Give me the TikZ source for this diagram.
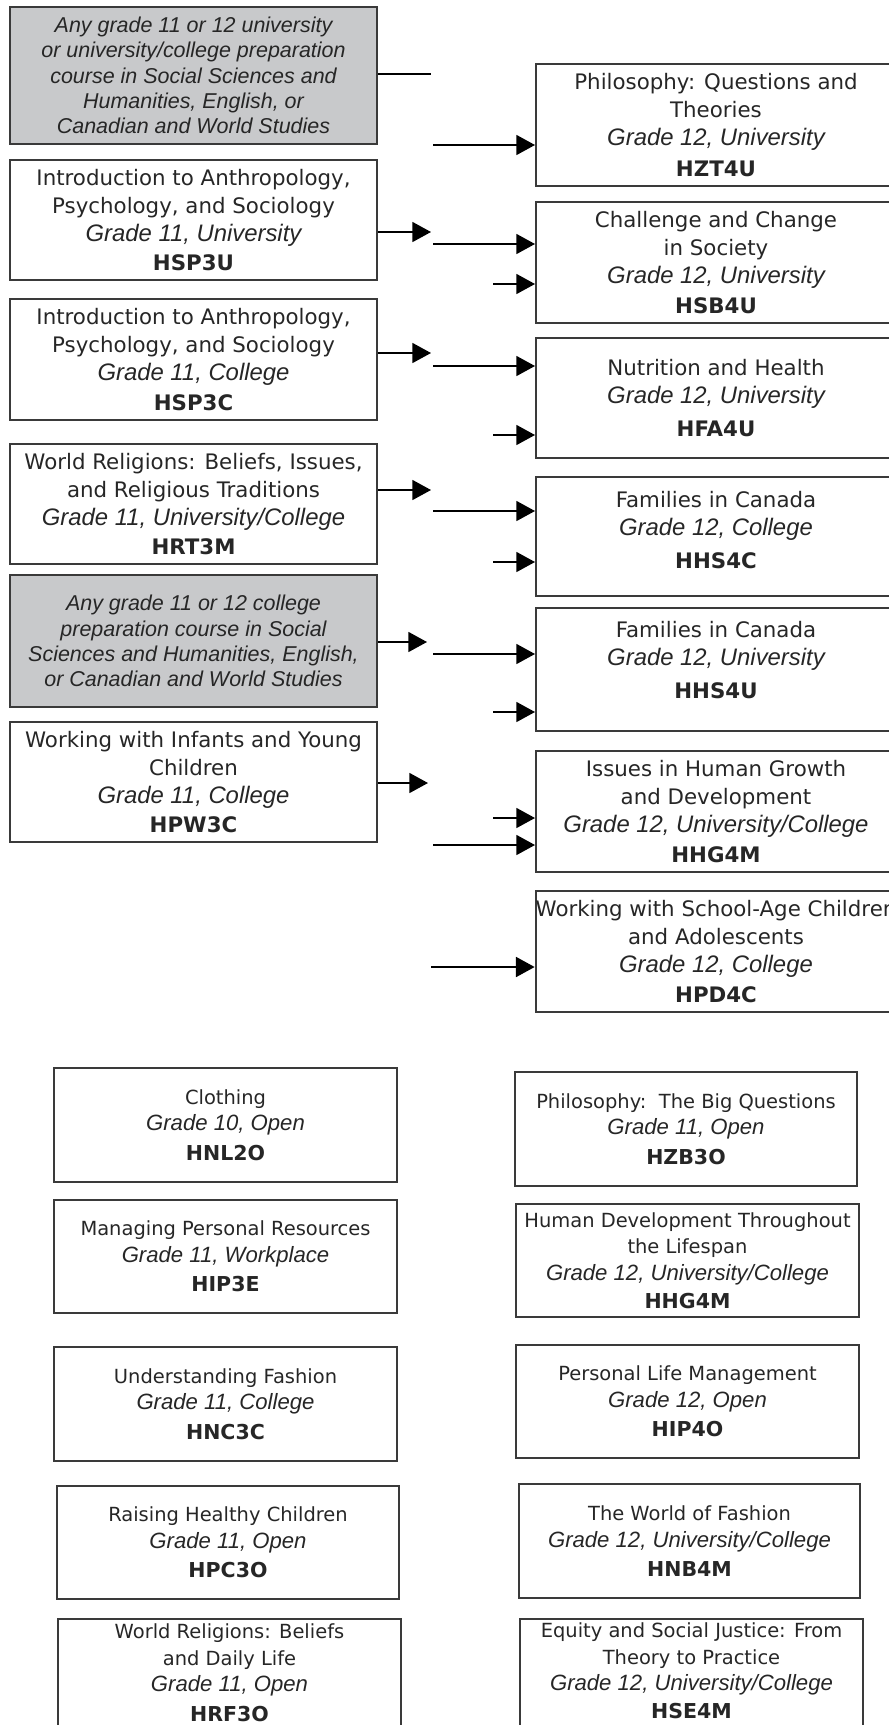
\documentclass[tikz,border=0pt]{standalone}
\usepackage{fontspec}
\setmainfont{DejaVu Sans}
\newfontfamily\ttlfont{DejaVu Sans}
\newfontfamily\gradefont{Liberation Sans}
\usetikzlibrary{arrows.meta}
\definecolor{gfill}{RGB}{200,201,203}
\definecolor{bordc}{RGB}{58,58,58}
\definecolor{txtc}{RGB}{38,38,38}
% top boxes
\newcommand\ttl[1]{{\ttlfont\fontsize{16}{21}\selectfont #1}}
\newcommand\grd[1]{{\gradefont\itshape\fontsize{17.9}{21}\selectfont #1}}
\newcommand\cod[1]{{\ttlfont\bfseries\fontsize{16}{21}\selectfont #1}}
% bottom boxes
\newcommand\bttl[1]{{\ttlfont\fontsize{14.6}{20}\selectfont #1}}
\newcommand\bgrd[1]{{\gradefont\itshape\fontsize{16.6}{20}\selectfont #1}}
\newcommand\bcod[1]{{\ttlfont\bfseries\fontsize{15.4}{20}\selectfont #1}}
% grey boxes
\newcommand\gry[1]{{\gradefont\itshape\fontsize{16.1}{19}\selectfont #1}}
\tikzset{
  bw/.style={minimum width=#1*0.75pt},
  bh/.style={minimum height=#1*0.75pt},
  cbox/.style={draw=bordc, line width=1.5pt, rectangle, inner sep=0pt, align=center, text=txtc},
  tbox/.style={cbox, font=\fontsize{16}{21}\selectfont},
  bbox/.style={cbox, font=\fontsize{15}{20}\selectfont},
  gbox/.style={cbox, fill=gfill, font=\fontsize{16}{19}\selectfont},
  arr/.style={-{Triangle[length=14pt,width=15pt]}, line width=1.2pt, black},
  stub/.style={line width=1.2pt, black}
}
\begin{document}
\begin{tikzpicture}[x=0.75pt,y=-0.75pt]
\useasboundingbox (0,0) rectangle (889,1725);

% ---------- left column (top) ----------
\node[gbox, bw=367, bh=137] (g1) at (193.5,75.5)
  {\gry{Any grade 11 or 12 university}\\ \gry{or university/college preparation}\\ \gry{course in Social Sciences and}\hspace*{12pt}\\ \gry{Humanities, English, or}\\ \gry{Canadian and World Studies}};
\node[tbox, bw=367, bh=120] (hsp3u) at (193.5,220)
  {\ttl{Introduction to Anthropology,}\\ \ttl{Psychology, and Sociology}\\ \grd{Grade 11, University}\\[1pt] \cod{HSP3U}};
\node[tbox, bw=367, bh=121] (hsp3c) at (193.5,359.5)
  {\ttl{Introduction to Anthropology,}\\ \ttl{Psychology, and Sociology}\\ \grd{Grade 11, College}\\[1pt] \cod{HSP3C}};
\node[tbox, bw=367, bh=120] (hrt3m) at (193.5,504)
  {\ttl{World Religions: Beliefs, Issues,}\\ \ttl{and Religious Traditions}\\ \grd{Grade 11, University/College}\\[1pt] \cod{HRT3M}};
\node[gbox, bw=367, bh=132] (g2) at (193.5,641)
  {\gry{Any grade 11 or 12 college}\\ \gry{preparation course in Social}\\ \gry{Sciences and Humanities, English,}\\ \gry{or Canadian and World Studies}};
\node[tbox, bw=367, bh=120] (hpw3c) at (193.5,782)
  {\ttl{Working with Infants and Young}\\ \ttl{Children}\\ \grd{Grade 11, College}\\[1pt] \cod{HPW3C}};

% ---------- right column (top) ----------
\node[tbox, bw=360, bh=122] (hzt4u) at (716,125)
  {\ttl{Philosophy: Questions and}\\ \ttl{Theories}\\ \grd{Grade 12, University}\\[2pt] \cod{HZT4U}};
\node[tbox, bw=360, bh=121] (hsb4u) at (716,262.5)
  {\ttl{Challenge and Change}\\ \ttl{in Society}\\ \grd{Grade 12, University}\\[1pt] \cod{HSB4U}};
\node[tbox, bw=360, bh=120] (hfa4u) at (716,398)
  {\ttl{Nutrition and Health}\\ \grd{Grade 12, University}\\[4pt] \cod{HFA4U}};
\node[tbox, bw=360, bh=119] (hhs4c) at (716,536.5)
  {\ttl{Families in Canada}\\ \grd{Grade 12, College}\\[4pt] \cod{HHS4C}\\[-11pt]};
\node[tbox, bw=360, bh=123] (hhs4u) at (716,669.5)
  {\ttl{Families in Canada}\\ \grd{Grade 12, University}\\[4pt] \cod{HHS4U}\\[-7pt]};
\node[tbox, bw=360, bh=121] (hhg4m) at (716,811.5)
  {\ttl{Issues in Human Growth}\\ \ttl{and Development}\\ \grd{Grade 12, University/College}\\[1pt] \cod{HHG4M}};
\node[tbox, bw=360, bh=121] (hpd4c) at (716,951.5)
  {\ttl{Working with School-Age Children}\\ \ttl{and Adolescents}\\ \grd{Grade 12, College}\\[1pt] \cod{HPD4C}};

% ---------- connectors ----------
\coordinate (t1) at (431,74);
\coordinate (t2) at (431,232);
\coordinate (t3) at (431,353);
\coordinate (t4) at (431,490);
\coordinate (t5) at (427,642);
\coordinate (t6) at (428,783);
\draw[stub] (g1.east |- t1) -- (t1);
\draw[arr] (hsp3u.east |- t2) -- (t2);
\draw[arr] (hsp3c.east |- t3) -- (t3);
\draw[arr] (hrt3m.east |- t4) -- (t4);
\draw[arr] (g2.east |- t5) -- (t5);
\draw[arr] (hpw3c.east |- t6) -- (t6);

\coordinate (l1) at (433,145);
\coordinate (l2) at (433,244);
\coordinate (l3) at (433,366);
\coordinate (l4) at (433,511);
\coordinate (l5) at (433,654);
\coordinate (l6) at (433,845);
\coordinate (l7) at (431,967);
\draw[arr] (l1) -- (l1 -| hzt4u.west);
\draw[arr] (l2) -- (l2 -| hsb4u.west);
\draw[arr] (l3) -- (l3 -| hfa4u.west);
\draw[arr] (l4) -- (l4 -| hhs4c.west);
\draw[arr] (l5) -- (l5 -| hhs4u.west);
\draw[arr] (l6) -- (l6 -| hhg4m.west);
\draw[arr] (l7) -- (l7 -| hpd4c.west);

\coordinate (s1) at (493,284);
\coordinate (s2) at (493,435);
\coordinate (s3) at (493,562);
\coordinate (s4) at (493,712);
\coordinate (s5) at (493,818);
\draw[arr] (s1) -- (s1 -| hsb4u.west);
\draw[arr] (s2) -- (s2 -| hfa4u.west);
\draw[arr] (s3) -- (s3 -| hhs4c.west);
\draw[arr] (s4) -- (s4 -| hhs4u.west);
\draw[arr] (s5) -- (s5 -| hhg4m.west);

% ---------- bottom, left column ----------
\node[bbox, bw=343, bh=114] (hnl2o) at (225.5,1125)
  {\bttl{Clothing}\\ \bgrd{Grade 10, Open}\\[2pt] \bcod{HNL2O}};
\node[bbox, bw=343, bh=113] (hip3e) at (225.5,1256.5)
  {\bttl{Managing Personal Resources}\\ \bgrd{Grade 11, Workplace}\\[2pt] \bcod{HIP3E}};
\node[bbox, bw=343, bh=114] (hnc3c) at (225.5,1404)
  {\bttl{Understanding Fashion}\\ \bgrd{Grade 11, College}\\[2pt] \bcod{HNC3C}};
\node[bbox, bw=342, bh=113] (hpc3o) at (228,1542.5)
  {\bttl{Raising Healthy Children}\\ \bgrd{Grade 11, Open}\\[2pt] \bcod{HPC3O}};
\node[bbox, bw=343, bh=112] (hrf3o) at (229.5,1675)
  {\bttl{World Religions: Beliefs}\\ \bttl{and Daily Life}\hspace*{14pt}\\ \bgrd{Grade 11, Open}\\[2pt] \bcod{HRF3O}\\[-16pt]};

% ---------- bottom, right column ----------
\node[bbox, bw=342, bh=114] (hzb3o) at (686,1129)
  {\bttl{Philosophy:\ \ The Big Questions}\\ \bgrd{Grade 11, Open}\\[2pt] \bcod{HZB3O}};
\node[bbox, bw=343, bh=113] (hhg4mb) at (687.5,1260.5)
  {\bttl{Human Development Throughout}\\ \bttl{the Lifespan}\\ \bgrd{Grade 12, University/College}\\[1pt] \bcod{HHG4M}};
\node[bbox, bw=343, bh=113] (hip4o) at (687.5,1401.5)
  {\bttl{Personal Life Management}\\ \bgrd{Grade 12, Open}\\[2pt] \bcod{HIP4O}};
\node[bbox, bw=341, bh=114] (hnb4m) at (689.5,1541)
  {\bttl{The World of Fashion}\\ \bgrd{Grade 12, University/College}\\[2pt] \bcod{HNB4M}};
\node[bbox, bw=343, bh=109] (hse4m) at (691.5,1673.5)
  {\bttl{Equity and Social Justice: From}\\ \bttl{Theory to Practice}\\ \bgrd{Grade 12, University/College}\\[1pt] \bcod{HSE4M}\\[-16pt]};
\end{tikzpicture}
\end{document}
